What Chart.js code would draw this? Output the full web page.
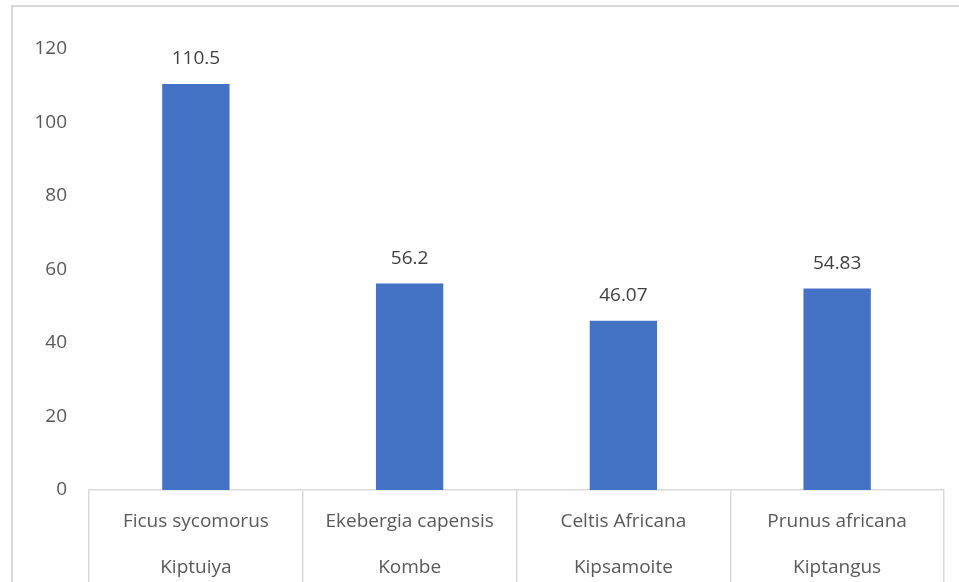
<!DOCTYPE html>
<html lang="en">
<head>
  <meta charset="UTF-8">
  <title>Tree species chart</title>
  <script src="https://cdn.jsdelivr.net/npm/chart.js"></script>
  <style>
    html, body { margin: 0; padding: 0; background: #fff; }
    #wrap { width: 959px; height: 582px; }
  </style>
</head>
<body>
  <div id="wrap"><canvas id="treeChart" width="959" height="582"></canvas></div>

  <script>
    // values
    const species = ['Ficus sycomorus', 'Ekebergia capensis', 'Celtis Africana', 'Prunus africana'];
    const localNames = ['Kiptuiya', 'Kombe', 'Kipsamoite', 'Kiptangus'];
    const values = [110.5, 56.2, 46.07, 54.83];

    const textGrey = '#595959';
    const lineGrey = '#d9d9d9';
    const fontSize = 19;

    // value labels above each bar
    const valueLabels = {
      id: 'valueLabels',
      afterDatasetsDraw(chart) {
        const ctx = chart.ctx;
        const meta = chart.getDatasetMeta(0);
        ctx.save();
        ctx.font = fontSize + 'px "Open Sans"';
        ctx.fillStyle = '#404040';
        ctx.textAlign = 'center';
        ctx.textBaseline = 'middle';
        meta.data.forEach((bar, i) => {
          ctx.fillText(String(values[i]), bar.x, bar.y - 25);
        });
        ctx.restore();
      }
    };

    // light frame round the chart (left and top edges are visible)
    const frame = {
      id: 'frame',
      beforeDraw(chart) {
        const ctx = chart.ctx;
        ctx.save();
        ctx.strokeStyle = lineGrey;
        ctx.lineWidth = 2;
        ctx.beginPath();
        ctx.moveTo(12, chart.height + 2);
        ctx.lineTo(12, 6);
        ctx.lineTo(chart.width + 2, 6);
        ctx.stroke();
        ctx.restore();
      }
    };

    new Chart(document.getElementById('treeChart'), {
      type: 'bar',
      data: {
        labels: species.map((s, i) => [s, localNames[i]]),
        datasets: [{
          data: values,
          backgroundColor: '#4472c4',
          barPercentage: 0.315,
          categoryPercentage: 1
        }]
      },
      options: {
        responsive: false,
        animation: false,
        layout: { padding: { top: 49, right: 15, left: 0, bottom: 0 } },
        plugins: {
          legend: { display: false },
          tooltip: { enabled: false }
        },
        scales: {
          x: {
            afterFit(scale) { scale.height = 92; },
            border: { display: true, color: lineGrey, width: 1.5 },
            grid: {
              display: true,
              drawOnChartArea: false,
              drawTicks: true,
              tickLength: 100,
              color: lineGrey,
              lineWidth: 1.5
            },
            ticks: {
              color: textGrey,
              font: { family: 'Open Sans', size: fontSize, lineHeight: 46 / fontSize },
              padding: -91,
              maxRotation: 0,
              autoSkip: false
            }
          },
          y: {
            min: 0,
            max: 120,
            afterFit(scale) { scale.width = 89; },
            border: { display: false },
            grid: { display: false, drawTicks: false },
            ticks: {
              stepSize: 20,
              color: textGrey,
              font: { family: 'Open Sans', size: fontSize },
              padding: 22
            }
          }
        }
      },
      plugins: [frame, valueLabels]
    });
  </script>
</body>
</html>
